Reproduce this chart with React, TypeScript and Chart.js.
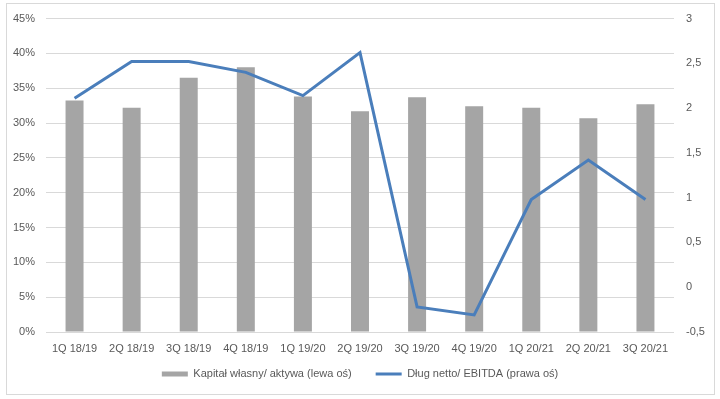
import React, { useEffect, useRef } from "react";
import { Chart, registerables } from "chart.js";

Chart.register(...registerables);

const categories = [
  "1Q 18/19", "2Q 18/19", "3Q 18/19", "4Q 18/19", "1Q 19/20", "2Q 19/20",
  "3Q 19/20", "4Q 19/20", "1Q 20/21", "2Q 20/21", "3Q 20/21",
];
const equityRatio = [0.3325, 0.322, 0.365, 0.38, 0.338, 0.317, 0.337, 0.324, 0.322, 0.307, 0.327];
const netDebtEbitda = [2.11, 2.52, 2.52, 2.4, 2.14, 2.62, -0.22, -0.31, 0.98, 1.42, 0.98];
const barLabel = "Kapitał własny/ aktywa (lewa oś)";
const lineLabel = "Dług netto/ EBITDA (prawa oś)";

const FONT = "'Liberation Sans', Arial, sans-serif";
const TEXT = "#595959";
const LEGEND_PAD = 24;

const legendPlace = {
  id: "legendPlace",
  afterLayout(chart: any) {
    const l = chart.legend;
    if (!l) return;
    const h = l.height;
    l.top = 374 - LEGEND_PAD - 5.5;
    l.bottom = l.top + h;
  },
};

export default function App() {
  const ref = useRef<HTMLCanvasElement | null>(null);
  useEffect(() => {
    if (!ref.current) return;
    const chart = new Chart(ref.current, {
      data: {
        labels: categories,
        datasets: [
          {
            type: "line",
            label: lineLabel,
            data: netDebtEbitda,
            yAxisID: "y1",
            borderColor: "#4a7ebb",
            backgroundColor: "#4a7ebb",
            borderWidth: 3,
            pointRadius: 0,
            tension: 0,
            pointStyle: "line",
            order: 0,
          },
          {
            type: "bar",
            label: barLabel,
            data: equityRatio,
            yAxisID: "y",
            backgroundColor: "#a5a5a5",
            borderWidth: 0,
            barPercentage: 0.315,
            categoryPercentage: 1,
            pointStyle: "rect",
            order: 1,
          },
        ],
      },
      plugins: [legendPlace],
      options: {
        animation: false,
        responsive: false,
        maintainAspectRatio: false,
        layout: { padding: { top: 8, bottom: 0, left: 0, right: 0 } },
        plugins: {
          tooltip: { enabled: false },
          legend: {
            position: "bottom",
            reverse: true,
            labels: {
              usePointStyle: true,
              pointStyleWidth: 26,
              boxHeight: 5,
              color: TEXT,
              font: { family: FONT, size: 11 },
              padding: LEGEND_PAD,
            },
          },
        },
        scales: {
          x: {
            grid: { display: false, drawTicks: false },
            border: { display: false },
            ticks: { color: TEXT, font: { family: FONT, size: 11 }, maxRotation: 0, padding: 10 },
            afterFit: (s: any) => { s.height = 22; },
          },
          y: {
            position: "left",
            min: 0,
            max: 0.45,
            grid: { color: "#d9d9d9", drawTicks: false },
            border: { display: false },
            ticks: {
              stepSize: 0.05,
              padding: 11,
              color: TEXT,
              font: { family: FONT, size: 11 },
              callback: (v: any) => Math.round(Number(v) * 100) + "%",
            },
            afterFit: (s: any) => { s.width = 46; },
          },
          y1: {
            position: "right",
            min: -0.5,
            max: 3,
            grid: { display: false, drawTicks: false },
            border: { display: false },
            ticks: {
              stepSize: 0.5,
              padding: 12,
              color: TEXT,
              font: { family: FONT, size: 11 },
              callback: (v: any) => String(Math.round(Number(v) * 10) / 10).replace(".", ","),
            },
            afterFit: (s: any) => { s.width = 46; },
          },
        },
      },
    } as any);
    return () => chart.destroy();
  }, []);
  return (
    <div style={{ position: "fixed", left: 0, top: 0, width: 720, height: 399, background: "#fff" }}>
      <div style={{ position: "absolute", left: 6, top: 3, width: 707, height: 390, border: "1px solid #d9d9d9" }} />
      <canvas ref={ref} width={720} height={399} style={{ position: "absolute", left: 0, top: 0 }} />
    </div>
  );
}
